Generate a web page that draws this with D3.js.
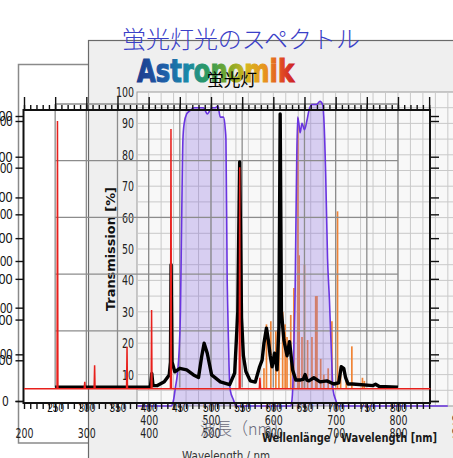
<!DOCTYPE html>
<html>
<head>
<meta charset="utf-8">
<script src="https://cdn.jsdelivr.net/npm/d3@7"></script>
<style>
  body { margin: 0; background: #fff; }
  svg { display: block; }
  .num { font-family: "Liberation Sans Narrow", "DejaVu Sans Condensed", "Liberation Sans", sans-serif; }
</style>
</head>
<body>
<div id="chart"></div>
<script>
// ---- texts ----
const titleText = "蛍光灯光のスペクトル";
const lampText = "蛍光灯";
const logoText = "Astronomik";
const xTitleJa = "波長（nm）";
const xTitleDe = "Wellenlänge / Wavelength [nm]";
const xTitleEn = "Wavelength / nm";
const yTitleT = "Transmission [%]";

// ---- tick labels ----
const astroYTicks = [10, 20, 30, 40, 50, 60, 70, 80, 90, 100];
const astroXTicks = [400, 500, 600, 700, 800, 900];
const frameXTicks = [200, 300, 400, 500, 600, 700, 800, 900];
const rulerLabels = [250, 300, 350, 400, 450, 500, 550, 600, 650, 700, 750, 800];
const countsA = [0, 1000, 2000, 3000, 4000, 5000, 6000, 7000];
const countsB = [0, 1000, 2000, 3000, 4000, 5000, 6000];

// ---- fluorescent lamp spectrum (relative %, black) ----
const lampNm = [250, 400, 403, 405, 407, 414, 425, 433, 435, 436, 437.5, 442, 450, 461, 472, 480, 485, 489, 494, 501,
  515, 530, 538, 543, 546, 549, 552, 556, 563, 571, 578, 582, 585, 589, 592, 595, 598, 602, 606, 609,
  611, 613, 617, 622, 626, 631, 636, 644, 648, 651, 654, 657, 665, 675, 686, 697, 705, 709, 713, 716,
  720, 727, 760, 764, 770, 800];
const lampVal = [6, 6, 6.3, 10.4, 6.5, 6.5, 7.7, 9.9, 14, 45, 14, 10.9, 12, 11.5, 9.9, 9.1, 15.7, 20, 16.8, 9.9,
  7.7, 6.8, 10.5, 30, 77.7, 28, 16, 11, 8, 7.6, 12.5, 14.6, 20, 24.8, 21, 16, 12.5, 16.8, 11.5, 25,
  93, 30, 21, 16, 20.5, 11.5, 8.3, 8.3, 8.5, 10, 8.2, 8, 9, 7.7, 8, 7, 7.4, 12.5, 12, 9,
  7, 7, 6.5, 6.9, 6.2, 6];

// ---- mercury reference spectrum (red) ----
const hgNm = [200, 253, 253.7, 254.4, 296.5, 297.5, 298.5, 312.5, 313.3, 314, 364.5, 365.3, 366,
  404, 404.7, 405.4, 435, 435.8, 436.6, 545.3, 546.1, 546.8, 577.5, 578.5, 579.5, 852];
const hgVal = [5.5, 5.5, 90.8, 5.5, 5.5, 7.7, 5.5, 5.5, 13, 5.5, 5.5, 18.9, 5.5,
  5.5, 30.6, 5.5, 5.5, 88.2, 5.5, 5.5, 76, 5.5, 5.5, 9, 5.5, 5.5];

// ---- orange emission lines ----
const lineNm = [585, 589, 596, 604, 609, 615, 619, 622, 628, 633, 639.5, 641.5, 646, 650, 655, 662, 668, 670,
  676, 681, 688, 694, 703, 708, 717, 726, 743, 746];
const lineVal = [12, 26, 27, 24, 20, 30, 26, 22, 29, 37.6, 91.7, 48, 22, 45, 21, 22, 35, 35,
  15, 10, 12, 27, 62, 10, 8, 19, 9, 8];
const lineBase = 5.5;

// ---- filter transmission (purple) ----
const filterNm = [382, 436, 440, 443, 446, 449, 451, 453, 455, 457, 461, 466, 473, 480, 488, 491, 494, 498,
  502, 507, 511, 515, 520, 523, 524, 526, 527, 529, 531, 536, 540,
  628, 630, 631, 633, 635, 637, 639, 641, 643, 646, 650, 654, 657, 662, 669, 675, 679, 681, 684,
  687, 690, 693, 696, 700, 705, 880];
const filterVal = [0, 0, 2, 6, 10, 18, 30, 60, 85, 90, 93, 94, 95, 95, 95, 94, 93, 94,
  95, 95, 95.5, 92, 92, 88, 85, 40, 30, 12.5, 5, 2, 0,
  0, 2, 5, 20, 37, 70, 92, 90, 87, 90, 88, 91, 94, 96, 96, 97, 96, 92, 74,
  47, 34, 18, 5, 2, 0, 0];

// ---- layout ----
const width = 453, height = 458;
const svg = d3.select("#chart").append("svg").attr("width", width).attr("height", height);

const x = d3.scaleLinear().domain([200, 900]).range([24, 460.3]);
const yT = d3.scaleLinear().domain([0, 100]).range([406, 92]);
const yG = d3.scaleLinear().domain([0, 100]).range([387.5, 104]);
const yA = d3.scaleLinear().domain([0, 7000]).range([401, 116]);
const yB = d3.scaleLinear().domain([0, 6000]).range([401, 121]);

// narrow digits: squeeze every label to a fixed width per character
function narrow(sel, perChar) {
  sel.each(function () {
    const t = d3.select(this);
    const s = t.text();
    if (s.length) t.attr("textLength", s.length * perChar).attr("lengthAdjust", "spacingAndGlyphs");
  });
}

// grey frame chart (bottom layer)
svg.append("rect").attr("x", 18.5).attr("y", 64.5).attr("width", 428.5).attr("height", 378.5)
  .attr("fill", "#fff").attr("stroke", "#8a8a8a").attr("stroke-width", 1.5);

// Astronomik panel
svg.append("rect").attr("x", 88.5).attr("y", 40.5).attr("width", 420).attr("height", 440)
  .attr("fill", "#efefef").attr("stroke", "#6a6a6a").attr("stroke-width", 1.2);
svg.append("rect").attr("x", 137).attr("y", yT(100)).attr("width", 400).attr("height", yT(0) - yT(100))
  .attr("fill", "#f8f8f8").attr("stroke", "#999").attr("stroke-width", 1);

const astroGrid = svg.append("g").attr("stroke", "#c9c9c9").attr("stroke-width", 1);
astroGrid.selectAll("line.v").data(d3.range(400, 901, 20)).join("line").attr("class", "v")
  .attr("x1", (d) => x(d)).attr("x2", (d) => x(d)).attr("y1", yT(100)).attr("y2", yT(0));
astroGrid.selectAll("line.h").data(d3.range(5, 100, 5)).join("line").attr("class", "h")
  .attr("x1", 137).attr("x2", width).attr("y1", (d) => yT(d)).attr("y2", (d) => yT(d));

// Astronomik axes
const ay = svg.append("g").attr("class", "num").attr("transform", "translate(137,0)")
  .call(d3.axisLeft(yT).tickValues(astroYTicks).tickSize(0).tickPadding(3));
ay.select(".domain").remove();
ay.selectAll("text").attr("font-size", 14).attr("fill", "#222").call(narrow, 6);

const ax = svg.append("g").attr("class", "num").attr("transform", "translate(0,415)")
  .call(d3.axisBottom(x).tickValues(astroXTicks).tickSize(0).tickPadding(0));
ax.select(".domain").remove();
ax.selectAll("text").attr("font-size", 14).attr("fill", "#222").call(narrow, 6);

svg.append("text").attr("transform", "translate(115,249) rotate(-90)")
  .attr("text-anchor", "middle").attr("font-family", "DejaVu Sans, sans-serif")
  .attr("font-weight", "bold").attr("font-size", 12).attr("fill", "#111")
  .attr("textLength", 124).attr("lengthAdjust", "spacingAndGlyphs").text(yTitleT);

svg.append("text").attr("x", 226).attr("y", 460).attr("text-anchor", "middle")
  .attr("font-family", "DejaVu Sans, sans-serif").attr("font-size", 12).attr("fill", "#333")
  .attr("textLength", 88).attr("lengthAdjust", "spacingAndGlyphs").text(xTitleEn);

// logo
const grad = svg.append("defs").append("linearGradient").attr("id", "logo")
  .attr("x1", "0%").attr("x2", "100%").attr("y1", "0%").attr("y2", "0%");
[["0%", "#1d3c8e"], ["18%", "#1f5fa8"], ["32%", "#1a88a8"], ["45%", "#2e9a5a"], ["58%", "#7aa82a"],
 ["70%", "#d8b41e"], ["82%", "#e8901e"], ["92%", "#e04a22"], ["100%", "#cc2028"]]
  .forEach(([o, c]) => grad.append("stop").attr("offset", o).attr("stop-color", c));
svg.append("text").attr("x", 137).attr("y", 82).attr("font-family", "DejaVu Sans, sans-serif")
  .attr("font-weight", "bold").attr("font-size", 32).attr("fill", "url(#logo)")
  .attr("stroke", "url(#logo)").attr("stroke-width", 1.2)
  .attr("textLength", 157).attr("lengthAdjust", "spacingAndGlyphs").text(logoText);

// orange emission lines
svg.append("g").selectAll("line").data(lineNm).join("line")
  .attr("x1", (d) => x(d)).attr("x2", (d) => x(d))
  .attr("y1", yT(lineBase)).attr("y2", (d, i) => yT(lineVal[i]))
  .attr("stroke", "#f08436").attr("stroke-width", 1.7);

// filter fill
const filterData = filterNm.map((d, i) => [d, filterVal[i]]);
svg.append("path").datum(filterData)
  .attr("d", d3.area().x((d) => x(d[0])).y0(yT(0)).y1((d) => yT(d[1])).curve(d3.curveMonotoneX))
  .attr("fill", "rgba(140,110,225,0.3)");

// grey chart grid
const gGrid = svg.append("g").attr("stroke", "#8c8c8c").attr("stroke-width", 1.3);
gGrid.selectAll("line.v").data(d3.range(250, 801, 50)).join("line").attr("class", "v")
  .attr("x1", (d) => x(d)).attr("x2", (d) => x(d)).attr("y1", yG(100)).attr("y2", yG(0));
gGrid.selectAll("line.h").data(d3.range(20, 101, 20)).join("line").attr("class", "h")
  .attr("x1", x(250)).attr("x2", x(800)).attr("y1", (d) => yG(d)).attr("y2", (d) => yG(d));

// filter line
svg.append("path").datum(filterData)
  .attr("d", d3.line().x((d) => x(d[0])).y((d) => yT(d[1])).curve(d3.curveMonotoneX))
  .attr("fill", "none").attr("stroke", "#6a35e0").attr("stroke-width", 1.6);

// grey chart axis labels + title
const gx = svg.append("g").attr("class", "num").attr("transform", "translate(0,428)")
  .call(d3.axisBottom(x).tickValues(frameXTicks).tickSize(0).tickPadding(0));
gx.select(".domain").remove();
gx.selectAll("text").attr("font-size", 14).attr("fill", "#222").call(narrow, 6);

svg.append("text").attr("x", 262).attr("y", 442).attr("font-family", "DejaVu Sans, sans-serif")
  .attr("font-weight", "bold").attr("font-size", 12.5).attr("fill", "#1a1a1a")
  .attr("textLength", 175).attr("lengthAdjust", "spacingAndGlyphs").text(xTitleDe);

// black frame chart
const frame = svg.append("g").attr("class", "num");
frame.append("rect").attr("x", 23.5).attr("y", 110).attr("width", 406.5).attr("height", 293)
  .attr("fill", "none").attr("stroke", "#111").attr("stroke-width", 2);

function styleAxis(g) {
  g.select(".domain").remove();
  g.selectAll("line").attr("stroke", "#111").attr("stroke-width", 1.4);
  g.selectAll("text").attr("fill", "#111");
}
const tens = d3.range(200, 851, 10);
const fifties = d3.range(200, 851, 50);
frame.append("g").attr("transform", "translate(0,110)")
  .call(d3.axisTop(x).tickValues(tens).tickSize(5).tickFormat("")).call(styleAxis);
frame.append("g").attr("transform", "translate(0,110)")
  .call(d3.axisTop(x).tickValues(fifties).tickSize(13).tickFormat("")).call(styleAxis);
frame.append("g").attr("transform", "translate(0,403)")
  .call(d3.axisBottom(x).tickValues(tens).tickSize(6).tickFormat("")).call(styleAxis);
const bx = frame.append("g").attr("transform", "translate(0,403)")
  .call(d3.axisBottom(x).tickValues(rulerLabels).tickSize(8).tickPadding(-8)).call(styleAxis);
bx.selectAll("text").attr("font-size", 12).call(narrow, 5.6);

const la = frame.append("g").attr("transform", "translate(23.5,0)")
  .call(d3.axisLeft(yA).tickValues(countsA).tickSize(8).tickPadding(3)).call(styleAxis);
la.selectAll("text").attr("font-size", 14).attr("dx", (d) => (d === 0 ? -4 : 0)).call(narrow, 6.3);
const lb = frame.append("g").attr("transform", "translate(23.5,0)")
  .call(d3.axisLeft(yB).tickValues(countsB).tickSize(8).tickPadding(3)
    .tickFormat((d) => (d === 0 ? "" : d))).call(styleAxis);
lb.selectAll("text").attr("font-size", 14).call(narrow, 6.3);
frame.append("g").attr("transform", "translate(430,0)")
  .call(d3.axisRight(yA).tickValues(countsA).tickSize(9).tickFormat("")).call(styleAxis);
frame.append("g").attr("transform", "translate(430,0)")
  .call(d3.axisRight(yB).tickValues(countsB).tickSize(9).tickFormat("")).call(styleAxis);

// lamp spectrum (black)
svg.append("path").datum(lampNm.map((d, i) => [d, lampVal[i]]))
  .attr("d", d3.line().x((d) => x(d[0])).y((d) => yT(d[1])))
  .attr("fill", "none").attr("stroke", "#000").attr("stroke-width", 3.4)
  .attr("stroke-linejoin", "round");

// mercury spectrum (red)
svg.append("path").datum(hgNm.map((d, i) => [d, hgVal[i]]))
  .attr("d", d3.line().x((d) => x(d[0])).y((d) => yT(d[1])))
  .attr("fill", "none").attr("stroke", "#e8201c").attr("stroke-width", 1.5);

// titles
svg.append("text").attr("x", 122).attr("y", 48).attr("font-family", "Noto Sans CJK JP, sans-serif")
  .attr("font-weight", 300).attr("font-size", 24).attr("fill", "#3a40c8").attr("textLength", 238)
  .attr("lengthAdjust", "spacingAndGlyphs").text(titleText);
svg.append("text").attr("x", 207).attr("y", 86).attr("font-family", "Noto Sans CJK JP, sans-serif")
  .attr("font-size", 17).attr("fill", "#000").attr("textLength", 50)
  .attr("lengthAdjust", "spacingAndGlyphs").text(lampText);
svg.append("text").attr("x", 200).attr("y", 435).attr("font-family", "Noto Sans CJK JP, sans-serif")
  .attr("font-weight", 300).attr("font-size", 17).attr("fill", "#6a6a7a").attr("textLength", 88)
  .attr("lengthAdjust", "spacingAndGlyphs").text(xTitleJa);
</script>
</body>
</html>
